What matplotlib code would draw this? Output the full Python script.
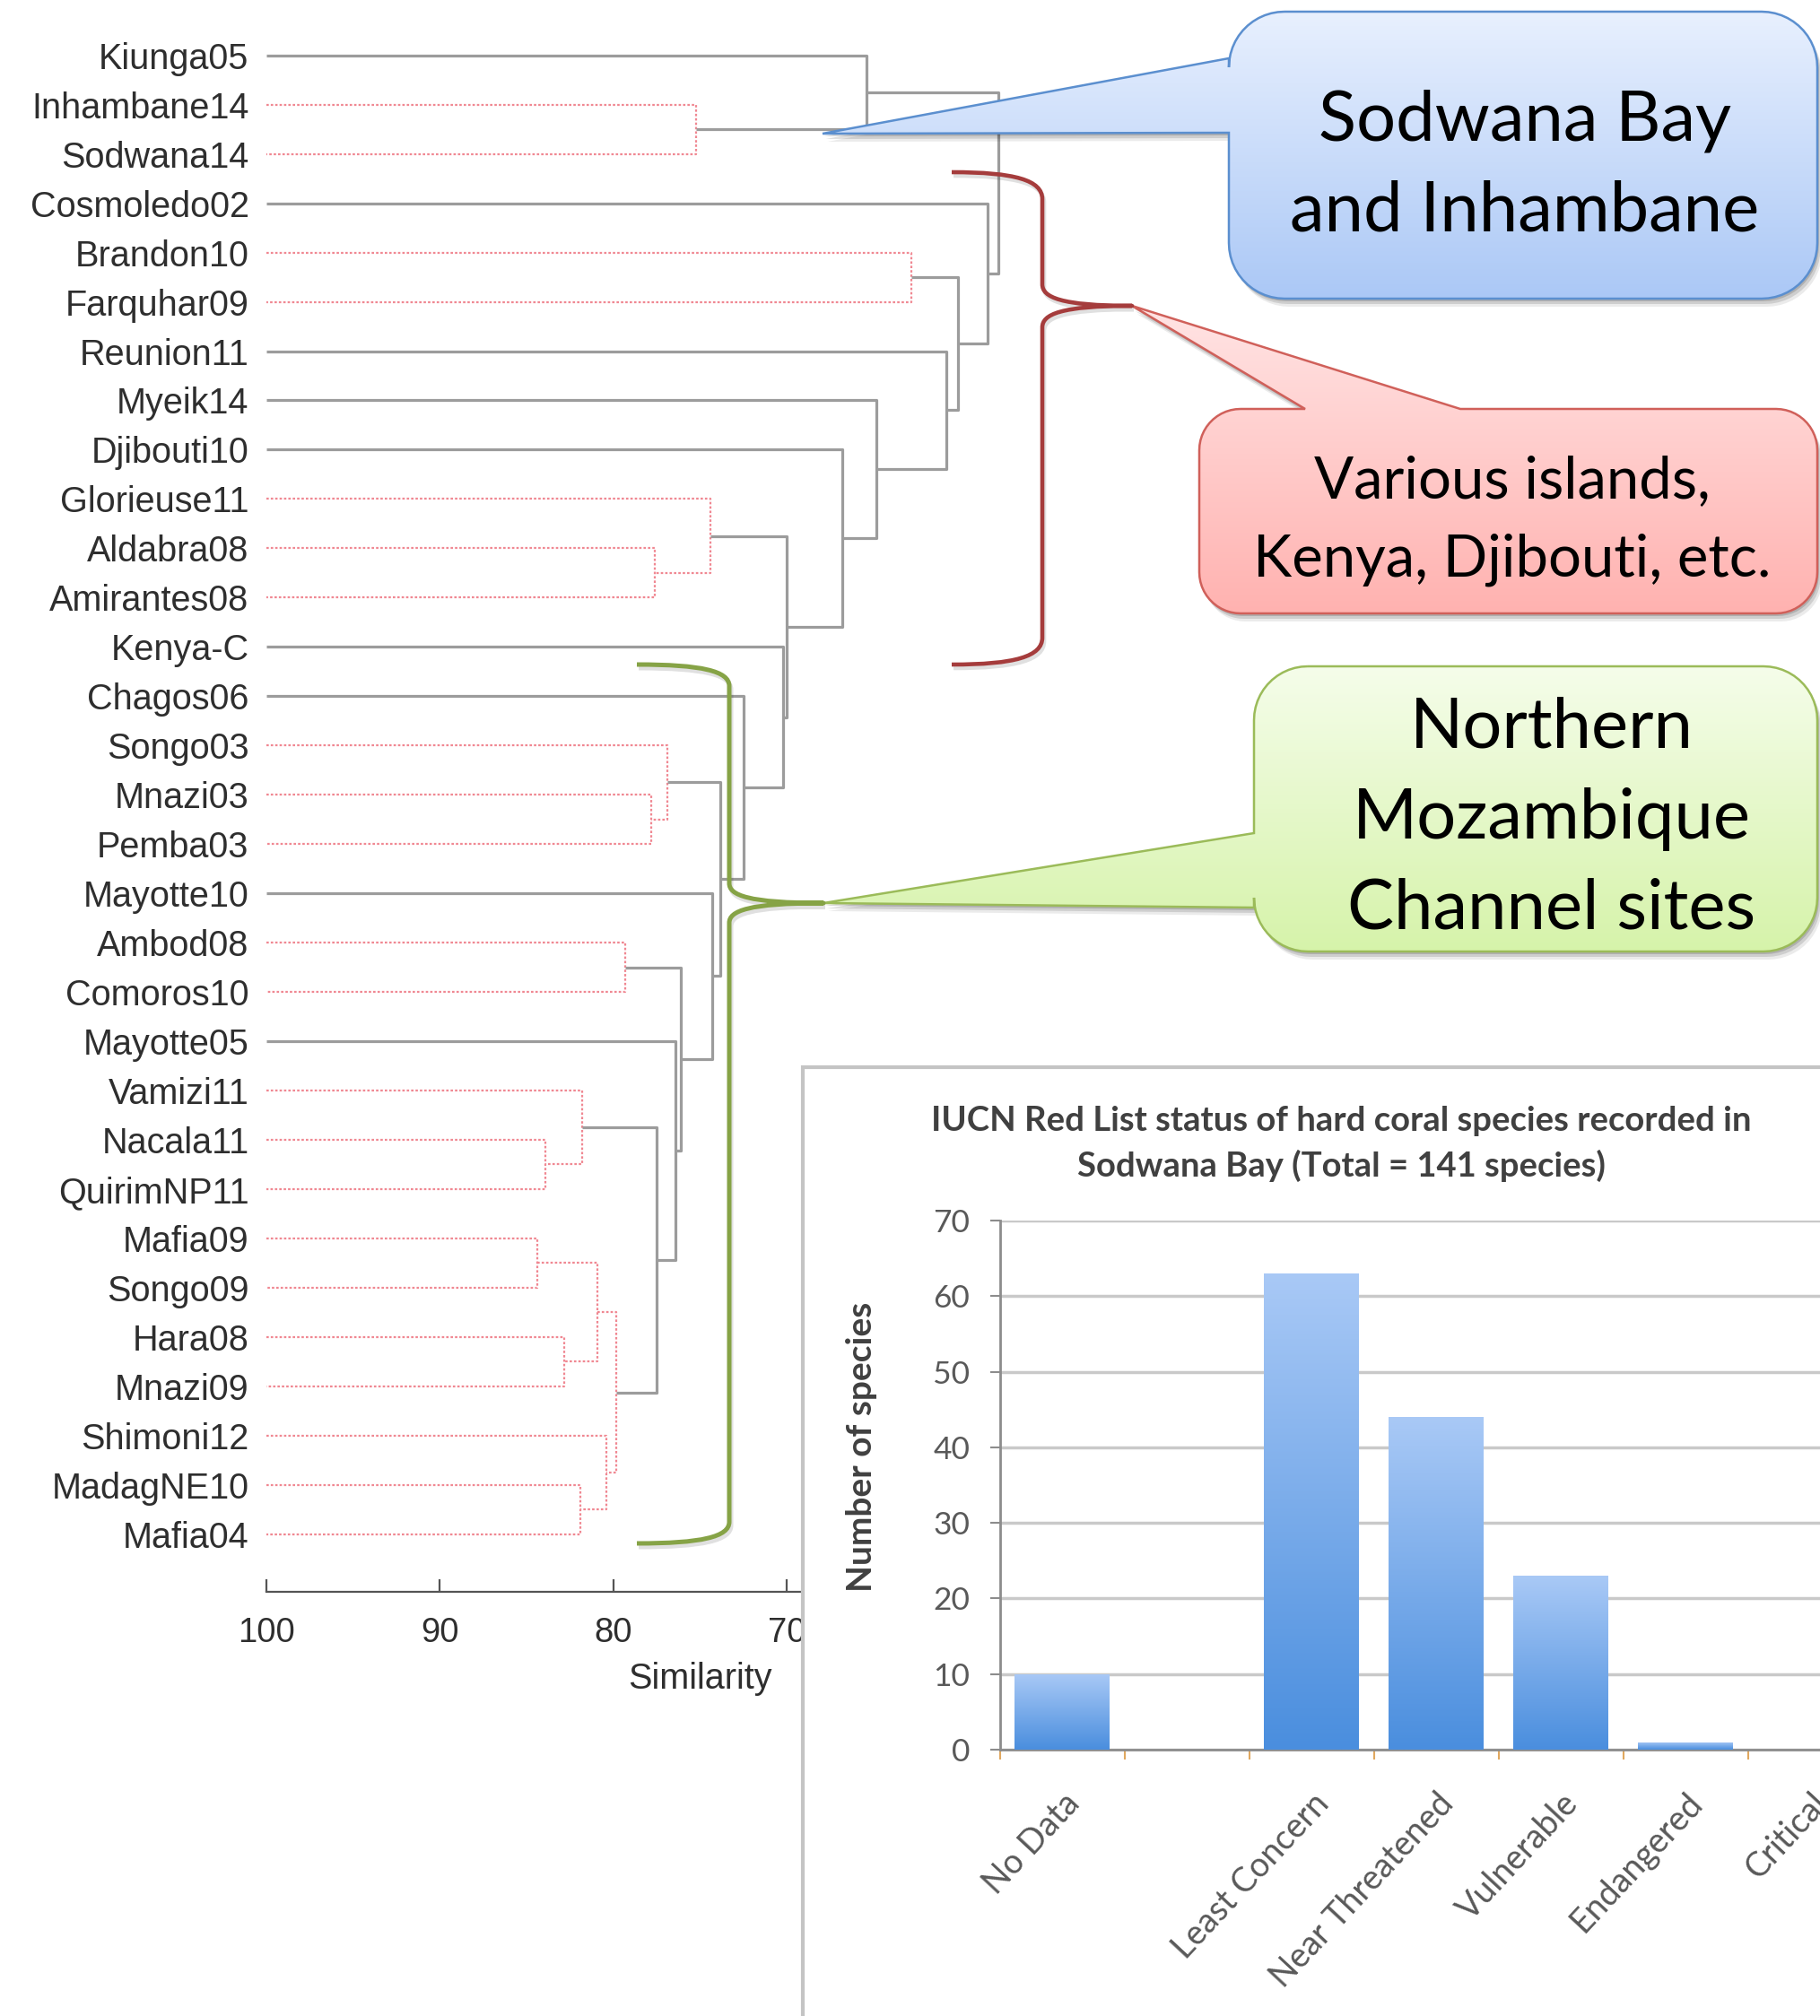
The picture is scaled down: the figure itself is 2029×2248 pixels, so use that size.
import numpy as np
import matplotlib
matplotlib.use('Agg')
import matplotlib.pyplot as plt
from matplotlib.path import Path
from matplotlib.patches import PathPatch, Rectangle
from matplotlib.colors import LinearSegmentedColormap

W, H = 2029, 2248

# dendrogram (group average clustering, SIMPROF groups drawn dotted red)
leaf_labels = ['Kiunga05', 'Inhambane14', 'Sodwana14', 'Cosmoledo02', 'Brandon10',
               'Farquhar09', 'Reunion11', 'Myeik14', 'Djibouti10', 'Glorieuse11',
               'Aldabra08', 'Amirantes08', 'Kenya-C', 'Chagos06', 'Songo03', 'Mnazi03',
               'Pemba03', 'Mayotte10', 'Ambod08', 'Comoros10', 'Mayotte05', 'Vamizi11',
               'Nacala11', 'QuirimNP11', 'Mafia09', 'Songo09', 'Hara08', 'Mnazi09',
               'Shimoni12', 'MadagNE10', 'Mafia04']

# (node, left child, right child, similarity, inside a SIMPROF group)
links = [
    ('inh_sod', 'Inhambane14', 'Sodwana14', 75.2, True),
    ('kiu', 'Kiunga05', 'inh_sod', 65.4, False),
    ('bra_far', 'Brandon10', 'Farquhar09', 62.8, True),
    ('ald_ami', 'Aldabra08', 'Amirantes08', 77.6, True),
    ('glo', 'Glorieuse11', 'ald_ami', 74.4, True),
    ('mna_pem', 'Mnazi03', 'Pemba03', 77.8, True),
    ('son03', 'Songo03', 'mna_pem', 76.9, True),
    ('amb_com', 'Ambod08', 'Comoros10', 79.3, True),
    ('nac_qui', 'Nacala11', 'QuirimNP11', 83.9, True),
    ('vam', 'Vamizi11', 'nac_qui', 81.8, True),
    ('maf_son', 'Mafia09', 'Songo09', 84.4, True),
    ('har_mna', 'Hara08', 'Mnazi09', 82.8, True),
    ('r', 'maf_son', 'har_mna', 80.9, True),
    ('mad_maf', 'MadagNE10', 'Mafia04', 81.9, True),
    ('s', 'Shimoni12', 'mad_maf', 80.4, True),
    ('q', 'r', 's', 79.8, True),
    ('o', 'vam', 'q', 77.5, False),
    ('n', 'Mayotte05', 'o', 76.4, False),
    ('m', 'amb_com', 'n', 76.1, False),
    ('l', 'Mayotte10', 'm', 74.3, False),
    ('k', 'son03', 'l', 73.8, False),
    ('i', 'Chagos06', 'k', 72.5, False),
    ('h', 'Kenya-C', 'i', 70.2, False),
    ('g', 'glo', 'h', 70.0, False),
    ('f', 'Djibouti10', 'g', 66.8, False),
    ('e', 'Myeik14', 'f', 64.8, False),
    ('d', 'Reunion11', 'e', 60.8, False),
    ('c', 'bra_far', 'd', 60.1, False),
    ('b', 'Cosmoledo02', 'c', 58.4, False),
    ('root', 'kiu', 'b', 57.8, False),
]
sim_ticks = [100, 90, 80, 70, 60, 50]

# inset bar chart
status = ['No Data', '', 'Least Concern', 'Near Threatened', 'Vulnerable',
          'Endangered', 'Critical']
n_species = [10, 0, 63, 44, 23, 1, 0]
bar_title = ('IUCN Red List status of hard coral species recorded in\n'
             'Sodwana Bay (Total = 141 species)')

fig = plt.figure(figsize=(W / 100, H / 100), dpi=100, facecolor='white')


def px_box(x0, y0, x1, y1):
    return [x0 / W, 1 - y1 / H, (x1 - x0) / W, (y1 - y0) / H]


# ---- dendrogram ----
ax = fig.add_axes(px_box(297, 34, 1263.5, 1775), zorder=1)
ax.set_facecolor('none')
gray = dict(color='#9c9c9c', lw=2.3, solid_capstyle='butt')
red = dict(color='#f08892', lw=1.6, ls=(0, (1.2, 1.0)))
pos = {name: (100.0, i) for i, name in enumerate(leaf_labels)}
for node, a, b, sim, grp in links:
    (xa, ya), (xb, yb) = pos[a], pos[b]
    ax.plot([xa, sim, sim, xb], [ya, ya, yb, yb], **(red if grp else gray))
    pos[node] = (sim, (ya + yb) / 2)

ax.set_xlim(100, 50)
ax.set_ylim(31.17, -0.504)
ax.set_yticks(range(len(leaf_labels)))
ax.set_yticklabels(leaf_labels, family='Liberation Sans', fontsize=28.5, color='#2e2e2e')
ax.tick_params(axis='y', length=0, pad=14)
ax.set_xticks(sim_ticks)
ax.set_xticklabels([str(t) for t in sim_ticks], family='Liberation Sans',
                   fontsize=27.5, color='#2e2e2e')
ax.tick_params(axis='x', direction='in', length=10, width=1.6, color='#555555', pad=20)
ax.set_xlabel('Similarity', family='Liberation Sans', fontsize=28.5, color='#2e2e2e',
              labelpad=10)
for side in ['top', 'right', 'left']:
    ax.spines[side].set_visible(False)
ax.spines['bottom'].set_color('#555555')
ax.spines['bottom'].set_linewidth(1.6)

# ---- overlay for callouts, brackets and the inset panel ----
ov = fig.add_axes([0, 0, 1, 1], zorder=2)
ov.set_facecolor('none')
ov.set_axis_off()


def callout_path(x0, y0, x1, y1, r, side, a, b, tip):
    pts = []
    arc = lambda cx, cy, t0, t1: [(cx + r * np.cos(t), cy + r * np.sin(t))
                                  for t in np.linspace(t0, t1, 14)]
    pts.append((x0 + r, y0))
    if side == 'top':
        pts += [(a, y0), tip, (b, y0)]
    pts += arc(x1 - r, y0 + r, -np.pi / 2, 0)
    pts += arc(x1 - r, y1 - r, 0, np.pi / 2)
    pts += arc(x0 + r, y1 - r, np.pi / 2, np.pi)
    if side == 'left':
        pts += [(x0, b), tip, (x0, a)]
    pts += arc(x0 + r, y0 + r, np.pi, 1.5 * np.pi)
    return Path(pts, closed=False)


def callout(box, r, side, a, b, tip, c_top, c_bot, edge, lines, xc, baselines, size):
    x0, y0, x1, y1 = box
    path = callout_path(x0, y0, x1, y1, r, side, a, b, tip)
    for k, al in [(9, 0.08), (6, 0.12), (3, 0.15)]:
        sh = Path(path.vertices + np.array([k * 0.6, k]))
        ov.add_patch(PathPatch(sh, fc='black', ec='none', alpha=al, zorder=1))
    patch = PathPatch(path, fc='none', ec=edge, lw=1.8, zorder=3)
    ov.add_patch(patch)
    cmap = LinearSegmentedColormap.from_list('g', [c_top, c_bot])
    im = ov.imshow(np.linspace(0, 1, 256).reshape(-1, 1), cmap=cmap, aspect='auto',
                   extent=(min(x0, tip[0]), x1, y1, min(y0, tip[1])), zorder=2)
    im.set_clip_path(patch)
    for txt, yb in zip(lines, baselines):
        ov.text(xc, yb, txt, ha='center', va='baseline', family='Lato',
                fontsize=size, color='black', zorder=4)


def brace(x_end, x_line, x_tip, y_top, y_tip, y_bot, bend, tip_h, color, lw):
    dx = x_line - x_end
    tx = x_tip - x_line
    verts = [(x_end, y_top), (x_line - 0.3 * dx, y_top), (x_line, y_top + 0.3 * bend),
             (x_line, y_top + bend),
             (x_line, y_tip - tip_h),
             (x_line, y_tip - 0.4 * tip_h), (x_line + 0.2 * tx, y_tip), (x_tip, y_tip),
             (x_line + 0.2 * tx, y_tip), (x_line, y_tip + 0.4 * tip_h), (x_line, y_tip + tip_h),
             (x_line, y_bot - bend),
             (x_line, y_bot - 0.3 * bend), (x_line - 0.3 * dx, y_bot), (x_end, y_bot)]
    codes = ([Path.MOVETO] + [Path.CURVE4] * 3 + [Path.LINETO] + [Path.CURVE4] * 6
             + [Path.LINETO] + [Path.CURVE4] * 3)
    p = Path(verts, codes)
    ov.add_patch(PathPatch(Path(p.vertices + np.array([2, 4]), codes), fc='none',
                           ec='black', alpha=0.12, lw=lw, zorder=5))
    ov.add_patch(PathPatch(p, fc='none', ec=color, lw=lw, zorder=6,
                           joinstyle='round', capstyle='butt'))


callout((1370, 13, 2026, 333), 62, 'left', 65, 148, (917, 149),
        '#e8f0fe', '#abc8f6', '#5b8fcf', ['Sodwana Bay', 'and Inhambane'],
        1700, [157, 257], 56)
callout((1337, 456, 2026, 684), 46, 'top', 1455, 1628, (1262, 341),
        '#ffe4e4', '#ffb2b0', '#d0605a', ['Various islands,', 'Kenya, Djibouti, etc.'],
        1686, [555, 642], 47)
callout((1398, 743, 2026, 1061), 60, 'left', 929, 1012, (918, 1007),
        '#f5fdea', '#d6f3aa', '#9bbb59', ['Northern', 'Mozambique', 'Channel sites'],
        1730, [833, 935, 1035], 56)

brace(1061, 1162, 1262, 192, 341, 741, 30, 24, '#a53c3c', 3.3)
brace(710, 813, 918, 741, 1007, 1721, 24, 22, '#86a346', 3.6)

# inset panel background
ov.add_patch(Rectangle((895, 1190), 1300, 1200, fc='white', ec='#c4c4c4', lw=3, zorder=7))
title_lines = bar_title.split('\n')
ov.text(1495, 1250, title_lines[0], ha='center', va='center', family='Lato',
        fontweight='bold', fontsize=27.5, color='#404040', zorder=8)
ov.text(1495, 1300, title_lines[1], ha='center', va='center', family='Lato',
        fontweight='bold', fontsize=27.5, color='#404040', zorder=8)
ov.set_xlim(0, W)
ov.set_ylim(H, 0)

# ---- bar chart ----
axb = fig.add_axes(px_box(1114.5, 1361, 1114.5 + 7 * 139, 1951), zorder=3)
axb.set_facecolor('none')
x = np.arange(len(status))
bars = axb.bar(x, n_species, width=0.76, color='none', edgecolor='none', zorder=3)
bar_cmap = LinearSegmentedColormap.from_list('bar', ['#a9c9f6', '#4a8ede'])
for bar in bars:
    h = bar.get_height()
    if h <= 0:
        continue
    x0 = bar.get_x()
    im = axb.imshow(np.linspace(0, 1, 256).reshape(-1, 1), cmap=bar_cmap, aspect='auto',
                    extent=(x0, x0 + bar.get_width(), 0, h), zorder=3)
    im.set_clip_path(bar)

axb.set_xlim(-0.5, len(status) - 0.5)
axb.set_ylim(0, 70)
axb.set_yticks(range(0, 80, 10))
axb.set_yticklabels([str(v) for v in range(0, 80, 10)], family='Lato', fontsize=25.5,
                    color='#595959')
axb.grid(axis='y', color='#c9c9c9', lw=2.5)
axb.set_axisbelow(True)
axb.tick_params(axis='y', length=8, width=1.5, color='#8c8c8c', pad=16)
axb.set_xticks(x)
axb.set_xticklabels(status, rotation=47, ha='right', rotation_mode='anchor',
                    family='Lato', fontsize=27, color='#595959')
axb.set_xticks(np.arange(-0.5, len(status), 1), minor=True)
axb.tick_params(axis='x', which='major', length=0, pad=30)
axb.tick_params(axis='x', which='minor', length=8, width=1.5, color='#e0a860')
axb.set_ylabel('Number of species', family='Lato', fontweight='bold', fontsize=28,
               color='#404040')
axb.yaxis.set_label_coords(-0.14, 0.573)
for side in ['top', 'right']:
    axb.spines[side].set_visible(False)
for side in ['left', 'bottom']:
    axb.spines[side].set_color('#8c8c8c')
    axb.spines[side].set_linewidth(2)

fig.savefig('out.png', dpi=100, facecolor='white')
